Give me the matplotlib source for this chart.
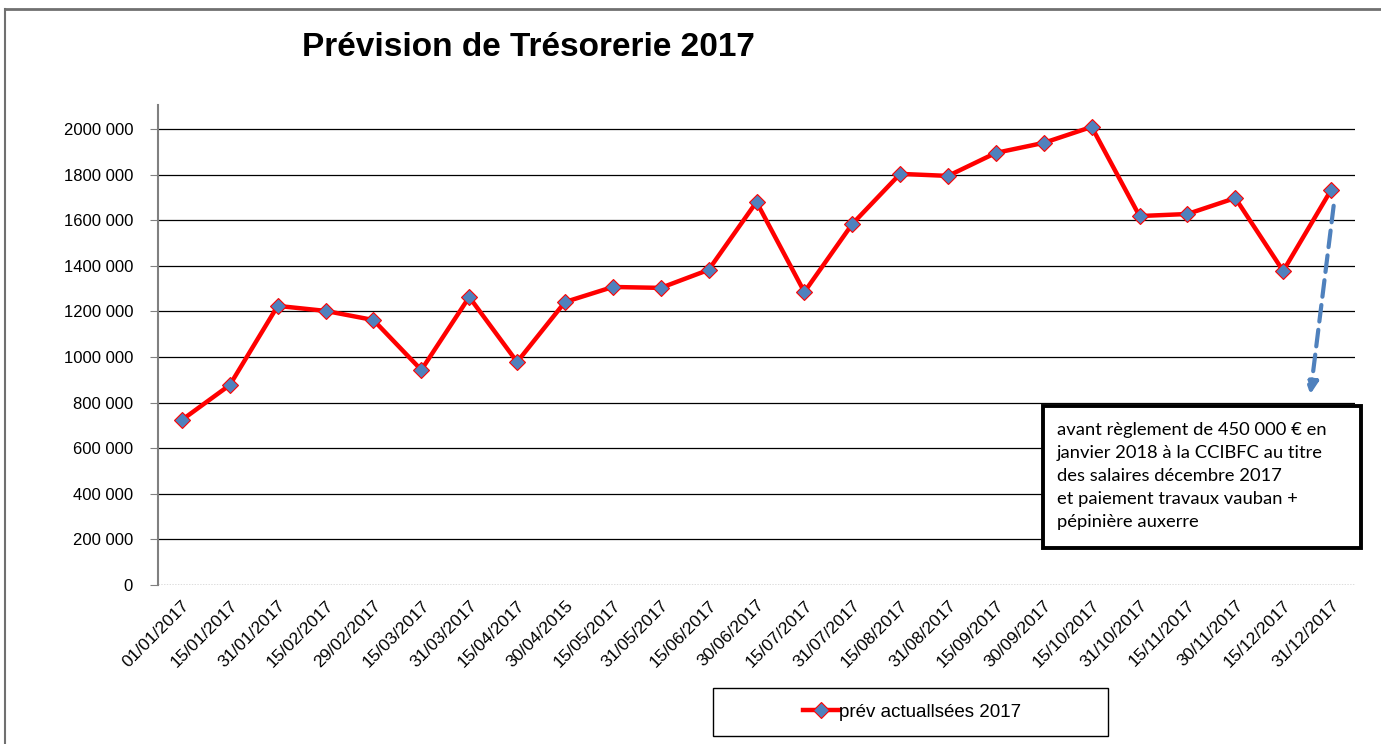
import numpy as np
import matplotlib
matplotlib.use('Agg')
import matplotlib.pyplot as plt
from matplotlib.lines import Line2D
from matplotlib.patches import FancyArrowPatch

plt.rcParams['font.family'] = ['Liberation Sans', 'DejaVu Sans']

dates = ['01/01/2017', '15/01/2017', '31/01/2017', '15/02/2017', '29/02/2017',
         '15/03/2017', '31/03/2017', '15/04/2017', '30/04/2015', '15/05/2017',
         '31/05/2017', '15/06/2017', '30/06/2017', '15/07/2017', '31/07/2017',
         '15/08/2017', '31/08/2017', '15/09/2017', '30/09/2017', '15/10/2017',
         '31/10/2017', '15/11/2017', '30/11/2017', '15/12/2017', '31/12/2017']
tresorerie = [724000, 877000, 1224000, 1202000, 1162000,
              943000, 1263000, 978000, 1241000, 1307000,
              1303000, 1382000, 1680000, 1285000, 1583000,
              1803000, 1794000, 1895000, 1939000, 2009000,
              1618000, 1627000, 1697000, 1377000, 1732000]
y_ticks = [0, 200000, 400000, 600000, 800000, 1000000,
           1200000, 1400000, 1600000, 1800000, 2000000]
serie_label = 'prév actuallsées 2017'
note = ("avant règlement de 450 000 € en\n"
        "janvier 2018 à la CCIBFC au titre\n"
        "des salaires décembre 2017\n"
        "et paiement travaux vauban +\n"
        "pépinière auxerre")

W, H = 1381, 744
fig = plt.figure(figsize=(W / 100, H / 100), dpi=100)
ax = fig.add_axes([158 / W, 1 - 585 / H, (1355 - 158) / W, (585 - 105) / H])

x = np.arange(len(dates))
line, = ax.plot(x, tresorerie, color='#ff0000', lw=3.2, marker='D', markersize=8,
                markerfacecolor='#4f81bd', markeredgecolor='#ff0000', markeredgewidth=0.8,
                zorder=3, label=serie_label)

ax.set_xlim(-0.5, len(dates) - 0.5)
ax.set_ylim(0, 2105000)
ax.set_yticks(y_ticks)
ax.set_yticklabels(['0' if v == 0 else f'{v // 1000} 000' for v in y_ticks], fontsize=12)
ax.set_xticks(x)
ax.set_xticklabels(dates, rotation=45, ha='right', rotation_mode='anchor', fontsize=12.5)
ax.tick_params(axis='x', length=0, pad=9)
ax.tick_params(axis='y', length=6, color='#808080', pad=12)

for v in y_ticks[1:]:
    ax.axhline(v, color='#000000', lw=0.9, zorder=1)
ax.axhline(0, color='#555555', lw=1, ls=(0, (1, 1)), zorder=1)

for s in ['top', 'right', 'bottom']:
    ax.spines[s].set_visible(False)
ax.spines['left'].set_color('#808080')
ax.spines['left'].set_linewidth(1.5)

fig.text(528 / W, 1 - 48 / H, 'Prévision de Trésorerie 2017', ha='center', va='center',
         fontsize=24, fontweight='bold')

# annotation box (white, above the grid)
box = plt.Rectangle((1043 / W, 1 - 548 / H), (1361 - 1043) / W, (548 - 406) / H,
                    transform=fig.transFigure, fc='white', ec='black', lw=2.8, zorder=5)
fig.add_artist(box)
fig.text(1057 / W, 1 - 476 / H, note, ha='left', va='center', fontsize=13.2,
         family=['Lato', 'DejaVu Sans'], linespacing=1.55, zorder=6)

arrow = FancyArrowPatch((1334 / W, 1 - 203 / H), (1310 / W, 1 - 397 / H),
                        transform=fig.transFigure, arrowstyle='-|>', mutation_scale=18,
                        color='#4f81bd', lw=3, linestyle=(0, (4, 2)))
fig.add_artist(arrow)

# legend frame + centred entry
frame = plt.Rectangle((713 / W, 1 - 736 / H), (1108 - 713) / W, (736 - 688) / H,
                      transform=fig.transFigure, fill=False, ec='black', lw=1)
fig.add_artist(frame)
fig.legend(handles=[line], loc='center', bbox_to_anchor=(912 / W, 1 - 712 / H),
           fontsize=13.5, frameon=False, handlelength=1.9, handletextpad=0.0)

# outer border
fig.add_artist(Line2D([5 / W, 5 / W], [0, 1 - 9 / H], transform=fig.transFigure,
                      color='#707070', lw=1.5))
fig.add_artist(Line2D([5 / W, 1], [1 - 9 / H, 1 - 9 / H], transform=fig.transFigure,
                      color='#707070', lw=2))

fig.savefig('out.png', dpi=100)
